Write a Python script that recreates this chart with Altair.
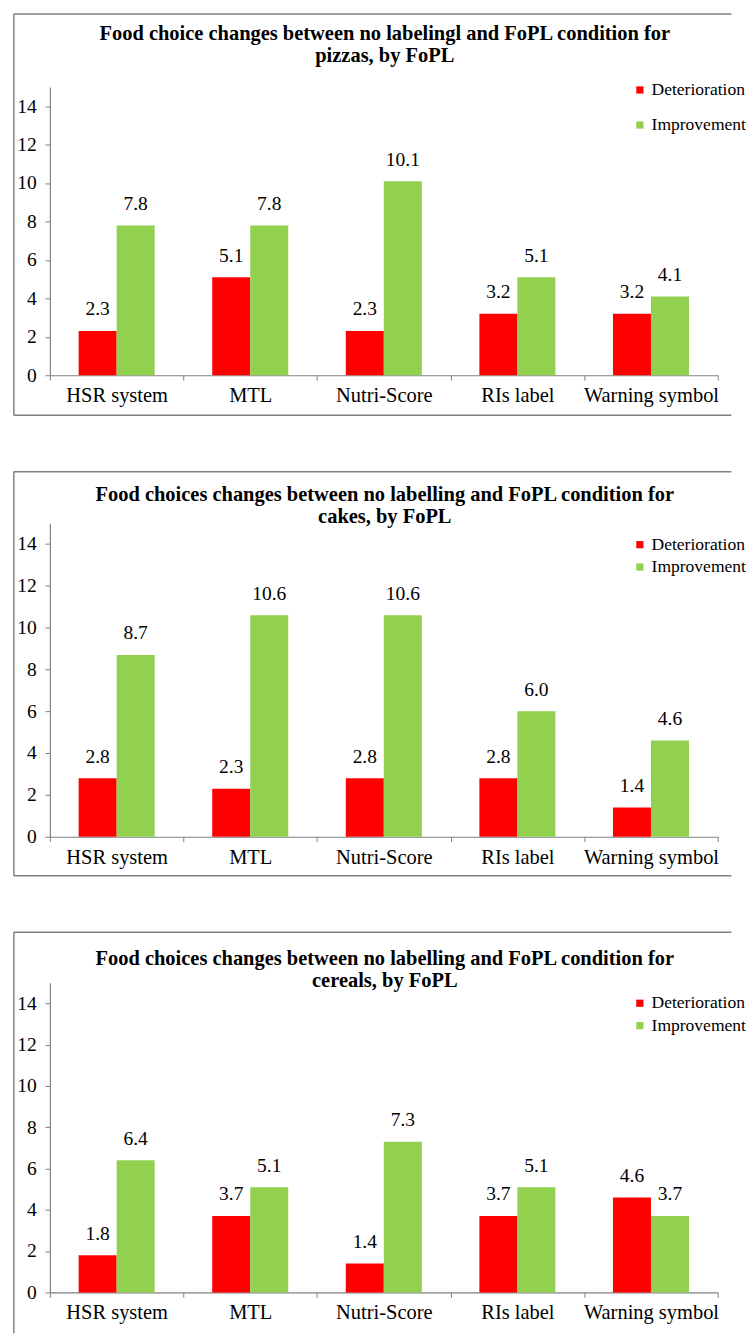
import altair as alt
import pandas as pd

categories = ["HSR system", "MTL", "Nutri-Score", "RIs label", "Warning symbol"]
series = ["Deterioration", "Improvement"]

pizzas_det = [2.3, 5.1, 2.3, 3.2, 3.2]
pizzas_imp = [7.8, 7.8, 10.1, 5.1, 4.1]
cakes_det = [2.8, 2.3, 2.8, 2.8, 1.4]
cakes_imp = [8.7, 10.6, 10.6, 6.0, 4.6]
cereals_det = [1.8, 3.7, 1.4, 3.7, 4.6]
cereals_imp = [6.4, 5.1, 7.3, 5.1, 3.7]

y_ticks = [0, 2, 4, 6, 8, 10, 12, 14]

titles = [
    ["Food choice changes between no labelingl and FoPL condition for", "pizzas, by FoPL"],
    ["Food choices changes between no labelling and FoPL condition for", "cakes, by FoPL"],
    ["Food choices changes between no labelling and FoPL condition for", "cereals, by FoPL"],
]

SERIF = "Liberation Serif"
W = 686
FRAME_R = 700


def make_df(det, imp):
    rows = []
    for c, d, i in zip(categories, det, imp):
        rows.append({"cat": c, "series": series[0], "value": d})
        rows.append({"cat": c, "series": series[1], "value": i})
    return pd.DataFrame(rows)


def panel(det, imp, title, height, frame_top, frame_bottom, title_offset,
          legend_y, row_pad, draw_bottom=True):
    df = make_df(det, imp)
    base = alt.Chart(df).encode(
        x=alt.X("cat:N", sort=categories, title=None,
                scale=alt.Scale(paddingInner=0, paddingOuter=0),
                axis=alt.Axis(labelAngle=0, labelFont=SERIF, labelFontSize=21,
                              labelColor="black", domainColor="#808080",
                              tickColor="#808080", tickSize=5, tickBand="extent",
                              labelPadding=5, domainWidth=1.2)),
        xOffset=alt.XOffset("series:N", sort=series,
                            scale=alt.Scale(paddingInner=0, paddingOuter=0.757)),
        y=alt.Y("value:Q", title=None,
                scale=alt.Scale(domain=[0, 15], nice=False),
                axis=alt.Axis(values=y_ticks, labelFont=SERIF, labelFontSize=20,
                              labelColor="black", domainColor="#808080",
                              tickColor="#808080", tickSize=5, labelPadding=9,
                              grid=False, domainWidth=1.2)),
    )
    bars = base.mark_bar().encode(
        color=alt.Color("series:N", sort=series,
                        scale=alt.Scale(domain=series, range=["#FF0000", "#92D050"]),
                        legend=alt.Legend(title=None, orient="none", legendX=597,
                                          legendY=legend_y, labelFont=SERIF,
                                          labelFontSize=18, labelColor="black",
                                          symbolType="square", symbolSize=55,
                                          symbolStrokeWidth=0, labelOffset=3,
                                          rowPadding=row_pad, padding=0))
    )
    labels = base.mark_text(font=SERIF, fontSize=20, color="black",
                            baseline="alphabetic", dy=-16).encode(
        text=alt.Text("value:Q", format=".1f")
    )
    one = pd.DataFrame({"k": [0]})
    frame_style = dict(color="#7f7f7f", strokeWidth=1.5)
    top = alt.Chart(one).mark_rule(**frame_style).encode(
        x=alt.value(-37), x2=alt.value(FRAME_R), y=alt.value(frame_top))
    left = alt.Chart(one).mark_rule(**frame_style).encode(
        x=alt.value(-37), y=alt.value(frame_top), y2=alt.value(frame_bottom))
    layers = [bars, labels, top, left]
    if draw_bottom:
        bottom = alt.Chart(one).mark_rule(**frame_style).encode(
            x=alt.value(-37), x2=alt.value(FRAME_R), y=alt.value(frame_bottom))
        layers.append(bottom)
    return alt.layer(*layers).properties(
        width=W, height=height,
        title=alt.TitleParams(title, font=SERIF, fontSize=21, fontWeight="bold",
                              color="black", anchor="middle", frame="group",
                              offset=title_offset, lineHeight=23, dx=1),
    )


p1 = panel(pizzas_det, pizzas_imp, titles[0], 296, -75, 337, -54, -6, 18)
p2 = panel(cakes_det, cakes_imp, titles[1], 322, -53, 362, -58, 13, 5)
p3 = panel(cereals_det, cereals_imp, titles[2], 318, -52, 360, -61, 12, 5,
           draw_bottom=False)

chart = alt.vconcat(p1, p2, p3, spacing=56).resolve_legend(
    color="independent"
).resolve_scale(color="independent").properties(
    padding={"left": 5, "top": -13, "right": 0, "bottom": 0}
).configure_view(stroke=None)

chart.save("out.html", embed_options={"renderer": "svg", "actions": False})
